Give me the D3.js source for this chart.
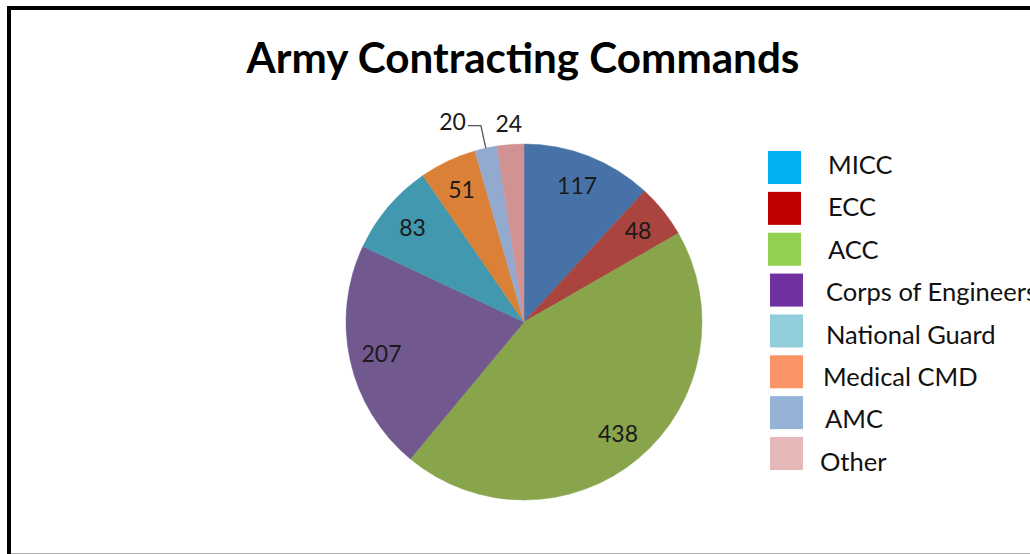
<!DOCTYPE html>
<html>
<head>
<meta charset="utf-8">
<script src="https://cdn.jsdelivr.net/npm/d3@7"></script>
<style>
  html, body { margin: 0; padding: 0; background: #fff; }
  svg { display: block; }
</style>
</head>
<body>
<svg id="chart" width="1030" height="554"></svg>
<script>
// ---- data ----
const title = "Army Contracting Commands";
const sliceValues = [117, 48, 438, 207, 83, 51, 20, 24];
const sliceColors = ["#4672A8", "#A9443F", "#88A54C", "#71588F", "#4298AF", "#DA8137", "#93A9CF", "#D09293"];
const legendLabels = ["MICC", "ECC", "ACC", "Corps of Engineers", "National Guard", "Medical CMD", "AMC", "Other"];
const legendColors = ["#00B0F0", "#C00000", "#92D050", "#7030A0", "#92CDDC", "#FA9466", "#95B3D7", "#E6B9B8"];
const legendTextOffsets = [0, 0, 0, -2, -2, -5, -3, -8];
const outsideLabels = [false, false, false, false, false, false, true, true];

const svg = d3.select("#chart");
const W = 1030, H = 554;
const font = "Lato, 'Open Sans', sans-serif";

// frame
svg.append("rect").attr("x", 0).attr("y", 0).attr("width", W).attr("height", H).attr("fill", "#fff");
svg.append("line").attr("x1", 9).attr("x2", W + 5).attr("y1", 553.5).attr("y2", 553.5)
  .attr("stroke", "#b0b0b0").attr("stroke-width", 1);
svg.append("rect").attr("x", 9).attr("y", 8).attr("width", W + 20).attr("height", H + 20)
  .attr("fill", "none").attr("stroke", "#000").attr("stroke-width", 4);

// title
const t = svg.append("text").attr("x", 523).attr("y", 73)
  .attr("text-anchor", "middle")
  .attr("font-family", font).attr("font-weight", 700).attr("font-size", 38)
  .attr("fill", "#000").text(title);
const tw = t.node().getComputedTextLength();
t.attr("font-size", 38 * 553 / tw);

// pie
const cx = 524, cy = 322, R = 178;
const pie = d3.pie().sort(null).value(d => d);
const arcs = pie(sliceValues);
const arc = d3.arc().innerRadius(0).outerRadius(R);
const labelArc = d3.arc().innerRadius(146).outerRadius(146);
const g = svg.append("g").attr("transform", `translate(${cx},${cy})`);

g.selectAll("path.slice").data(arcs).enter().append("path")
  .attr("class", "slice")
  .attr("d", arc)
  .attr("fill", (d, i) => sliceColors[i])
  .attr("stroke", (d, i) => sliceColors[i]).attr("stroke-width", 0.5);

const labelFont = 23;
arcs.forEach((d, i) => {
  const mid = (d.startAngle + d.endAngle) / 2;
  if (!outsideLabels[i]) {
    const [x, y] = labelArc.centroid(d);
    g.append("text").attr("x", x).attr("y", y).attr("dy", "0.35em")
      .attr("text-anchor", "middle").attr("font-family", font)
      .attr("font-size", labelFont).attr("fill", "#1a1a1a").text(d.value);
  } else if (i === 6) {
    // leader line label
    const p0 = [R * Math.sin(mid), -R * Math.cos(mid)];
    const r1 = 201;
    const p1 = [r1 * Math.sin(mid), -r1 * Math.cos(mid)];
    const p2 = [p1[0] - 13, p1[1]];
    g.append("polyline").attr("points", [p0, p1, p2].map(p => p.join(",")).join(" "))
      .attr("fill", "none").attr("stroke", "#555").attr("stroke-width", 1.3);
    g.append("text").attr("x", p2[0] - 2).attr("y", p2[1]).attr("dy", "0.2em")
      .attr("text-anchor", "end").attr("font-family", font)
      .attr("font-size", labelFont).attr("fill", "#1a1a1a").text(d.value);
  } else {
    const r2 = 199;
    const x = r2 * Math.sin(mid), y = -r2 * Math.cos(mid);
    g.append("text").attr("x", x).attr("y", y).attr("dy", "0.35em")
      .attr("text-anchor", "middle").attr("font-family", font)
      .attr("font-size", labelFont).attr("fill", "#1a1a1a").text(d.value);
  }
});

// legend
const ly = d3.scalePoint().domain(legendLabels).range([151, 437]);
const lty = d3.scalePoint().domain(legendLabels).range([165, 462]);
const lg = svg.append("g");
legendLabels.forEach((name, i) => {
  const y = ly(name);
  lg.append("rect").attr("x", i >= 3 ? 770 : 768).attr("y", y).attr("width", 33).attr("height", 33)
    .attr("fill", legendColors[i]);
  lg.append("text").attr("x", 828 + legendTextOffsets[i]).attr("y", lty(name)).attr("dy", "0.35em")
    .attr("font-family", font).attr("font-size", 25.5).attr("fill", "#111").text(name);
});
</script>
</body>
</html>
